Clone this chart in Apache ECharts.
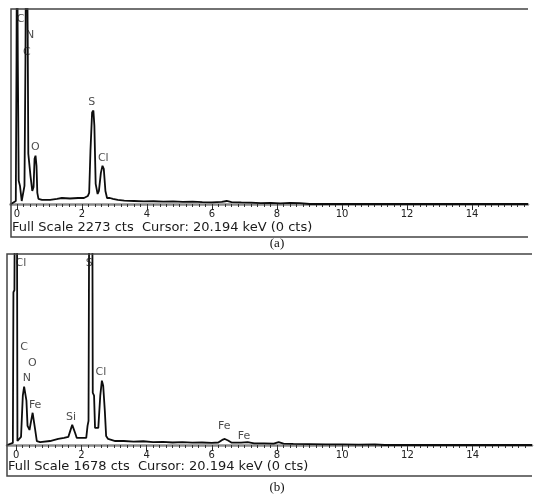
<!DOCTYPE html>
<html><head><meta charset="utf-8">
<script src="https://cdn.jsdelivr.net/npm/echarts@6/dist/echarts.min.js"></script>
<style>html,body{margin:0;padding:0;background:#fff}#c{width:550px;height:498px}</style>
</head><body><div id="c"></div>
<script>
// ---- Data ----
// Panel (a): energy (keV) and counts
const energyA = [-0.185, -0.037, -0.015, 0.0, 0.025, 0.052, 0.092, 0.145, 0.185, 0.23, 0.26, 0.29, 0.33, 0.348, 0.385, 0.415, 0.47, 0.51, 0.54, 0.57, 0.6, 0.625, 0.66, 0.77, 1.02, 1.23, 1.38, 1.63, 1.88, 2.06, 2.18, 2.22, 2.26, 2.31, 2.35, 2.38, 2.42, 2.48, 2.52, 2.58, 2.63, 2.67, 2.72, 2.77, 2.86, 2.95, 3.1, 3.3, 3.6, 3.9, 4.2, 4.5, 4.8, 5.1, 5.4, 5.7, 6.0, 6.3, 6.45, 6.6, 6.9, 7.2, 7.5, 7.8, 8.1, 8.4, 8.7, 9.0, 15.72];
const countsA = [0, 35, 1676, 3500, 1676, 270, 211, 35, 47, 211, 1676, 4000, 1910, 586, 563, 328, 152, 199, 527, 563, 445, 129, 59, 47, 47, 59, 70, 64, 70, 70, 94, 129, 621, 1066, 1090, 914, 234, 117, 152, 363, 445, 410, 152, 70, 70, 59, 47, 40, 35, 30, 32, 28, 30, 25, 27, 22, 20, 24, 35, 22, 18, 16, 10, 14, 8, 12, 10, 0, 0];
// Panel (b)
const energyB = [-0.276, -0.1, -0.083, -0.052, -0.03, -0.006, 0.02, 0.04, 0.09, 0.15, 0.205, 0.245, 0.276, 0.316, 0.35, 0.41, 0.46, 0.506, 0.537, 0.58, 0.635, 0.736, 1.04, 1.29, 1.47, 1.6, 1.66, 1.72, 1.76, 1.81, 1.86, 1.96, 2.15, 2.19, 2.22, 2.25, 2.285, 2.33, 2.35, 2.39, 2.42, 2.52, 2.58, 2.63, 2.67, 2.72, 2.76, 2.82, 2.88, 3.04, 3.3, 3.6, 3.9, 4.2, 4.5, 4.8, 5.1, 5.4, 5.7, 6.0, 6.2, 6.32, 6.4, 6.5, 6.6, 6.9, 7.1, 7.3, 7.6, 7.9, 8.05, 8.2, 8.5, 9.0, 9.5, 10.0, 10.5, 11.0, 11.3, 15.82];
const countsB = [0, 18, 1342, 1360, 3000, 4000, 3000, 35, 26, 71, 433, 512, 521, 389, 168, 132, 212, 283, 291, 141, 35, 26, 35, 53, 62, 71, 124, 177, 168, 106, 62, 62, 62, 168, 212, 3000, 4000, 3000, 459, 433, 150, 150, 433, 565, 521, 300, 79, 53, 44, 35, 35, 30, 33, 26, 28, 22, 25, 20, 22, 18, 22, 45, 53, 40, 22, 20, 25, 15, 14, 12, 25, 12, 10, 8, 6, 6, 4, 5, 0, 0];

// Peak labels
const labelNamesA = ['C', 'N', 'C', 'O', 'S', 'Cl'];
const labelKeVA   = [0.114, 0.40, 0.30, 0.563, 2.298, 2.655];
const labelCtsA   = [2154, 1969, 1773, 660, 1187, 531];
const labelNamesB = ['Cl', 'S', 'C', 'O', 'N', 'Fe', 'Si', 'Cl', 'Fe', 'Fe'];
const labelKeVB   = [0.144, 2.24, 0.245, 0.5, 0.328, 0.583, 1.68, 2.6, 6.38, 6.99];
const labelCtsB   = [1596, 1596, 859, 721, 585, 353, 241, 638, 168, 79];

// Axis ticks / labels
const majorTicks = [0, 2, 4, 6, 8, 10, 12, 14];
const minorStep = 0.2;
const fullScaleA = 2273;
const fullScaleB = 1678;
const cursorText = 'Cursor: 20.194 keV (0 cts)';

const minorTicks = [];
for (let i = 0; i <= 78; i++) minorTicks.push(Math.round(i * minorStep * 10) / 10);

const chart = echarts.init(document.getElementById('c'), null, {renderer: 'canvas'});
const FONT = 'DejaVu Sans';

function mainX(gi, min, max) {
  return {
    type: 'value', gridIndex: gi, min: min, max: max, position: 'bottom',
    axisLine: {show: true, lineStyle: {color: '#8a8a8a', width: 2.5}},
    axisTick: {show: true, customValues: majorTicks, length: 6, lineStyle: {color: '#222', width: 1}},
    axisLabel: {show: true, customValues: majorTicks, margin: 5, color: '#222', fontSize: 10, fontFamily: FONT},
    splitLine: {show: false}
  };
}
function minorX(gi, min, max) {
  return {
    type: 'value', gridIndex: gi, min: min, max: max, position: 'bottom',
    axisLine: {show: false},
    axisTick: {show: true, customValues: minorTicks, length: 3, lineStyle: {color: '#333', width: 1}},
    axisLabel: {show: false},
    splitLine: {show: false}
  };
}
function yAx(gi, max) {
  return {type: 'value', gridIndex: gi, min: 0, max: max, show: false, splitLine: {show: false}};
}
function pairs(xs, ys) { return xs.map((x, i) => [x, ys[i]]); }
function labelData(names, xs, ys) { return names.map((n, i) => ({name: n, value: [xs[i], ys[i]]})); }

const lineStyle = {color: '#0d0d0d', width: 1.8};
const lblStyle = {show: true, position: 'inside', formatter: '{b}', color: '#1a1a1a', fontSize: 11, fontFamily: FONT};

chart.setOption({
  animation: false,
  backgroundColor: '#fff',
  grid: [
    {left: 10.5, top: 9, width: 517.5, height: 195},
    {left: 7, top: 254, width: 525, height: 191}
  ],
  xAxis: [mainX(0, -0.2, 15.72), minorX(0, -0.2, 15.72), mainX(1, -0.28, 15.82), minorX(1, -0.28, 15.82)],
  yAxis: [yAx(0, fullScaleA), yAx(1, fullScaleB)],
  series: [
    {type: 'line', xAxisIndex: 0, yAxisIndex: 0, data: pairs(energyA, countsA), showSymbol: false, symbol: 'none', lineStyle: lineStyle, clip: true, z: 3},
    {type: 'line', xAxisIndex: 2, yAxisIndex: 1, data: pairs(energyB, countsB), showSymbol: false, symbol: 'none', lineStyle: lineStyle, clip: true, z: 3},
    {type: 'scatter', xAxisIndex: 0, yAxisIndex: 0, data: labelData(labelNamesA, labelKeVA, labelCtsA), symbolSize: 1, itemStyle: {color: 'rgba(0,0,0,0)'}, label: lblStyle, z: 4},
    {type: 'scatter', xAxisIndex: 2, yAxisIndex: 1, data: labelData(labelNamesB, labelKeVB, labelCtsB), symbolSize: 1, itemStyle: {color: 'rgba(0,0,0,0)'}, label: lblStyle, z: 4}
  ],
  graphic: [
    {type: 'polyline', shape: {points: [[528, 9], [11, 9], [11, 237], [528, 237]]}, style: {stroke: '#444', lineWidth: 1.5, fill: null}, z: 10},
    {type: 'polyline', shape: {points: [[532, 254], [7, 254], [7, 476], [532, 476]]}, style: {stroke: '#444', lineWidth: 1.5, fill: null}, z: 10},
    {type: 'text', x: 12, y: 228, style: {text: 'Full Scale ' + fullScaleA + ' cts  ' + cursorText, font: '13px "DejaVu Sans"', fill: '#1a1a1a', textVerticalAlign: 'middle', textAlign: 'left'}},
    {type: 'text', x: 8, y: 467, style: {text: 'Full Scale ' + fullScaleB + ' cts  ' + cursorText, font: '13px "DejaVu Sans"', fill: '#1a1a1a', textVerticalAlign: 'middle', textAlign: 'left'}},
    {type: 'text', x: 277, y: 244, style: {text: '(a)', font: '13px "Liberation Serif"', fill: '#111', textVerticalAlign: 'middle', textAlign: 'center'}},
    {type: 'text', x: 277, y: 488, style: {text: '(b)', font: '13px "Liberation Serif"', fill: '#111', textVerticalAlign: 'middle', textAlign: 'center'}}
  ]
});
</script></body></html>
